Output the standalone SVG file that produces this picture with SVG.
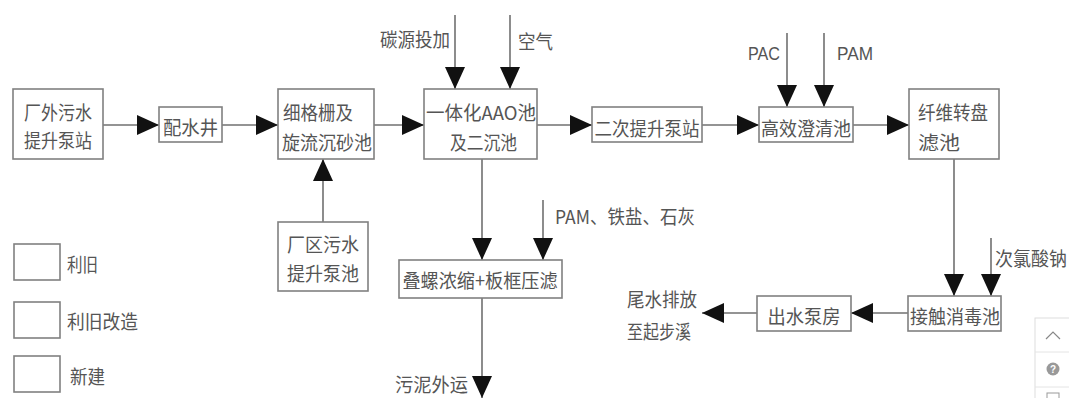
<svg xmlns="http://www.w3.org/2000/svg" width="1069" height="398" viewBox="0 0 1069 398">
<style>
.box{fill:#fff;stroke:#808080;stroke-width:1.6}
.t{font-family:"Noto Sans CJK SC","Liberation Sans",sans-serif;font-size:19px;fill:#555;dominant-baseline:central}
.c{text-anchor:middle}
.l{font-family:"Liberation Sans","Noto Sans CJK SC",sans-serif}
.ln{stroke:#707070;stroke-width:1.6;fill:none}
</style>
<defs>
<marker id="ah" markerUnits="userSpaceOnUse" markerWidth="22" markerHeight="20" refX="22" refY="10" orient="auto">
<path d="M0,0 L22,10 L0,20 z" fill="#111"/>
</marker>
</defs>
<rect width="1069" height="398" fill="#fff"/>

<g id="connectors">
<line class="ln" x1="103" y1="125" x2="159" y2="125" marker-end="url(#ah)"/>
<line class="ln" x1="222" y1="125" x2="278" y2="125" marker-end="url(#ah)"/>
<line class="ln" x1="374" y1="125" x2="424" y2="125" marker-end="url(#ah)"/>
<line class="ln" x1="537" y1="125" x2="592" y2="125" marker-end="url(#ah)"/>
<line class="ln" x1="702" y1="125" x2="759" y2="125" marker-end="url(#ah)"/>
<line class="ln" x1="853" y1="125" x2="909" y2="125" marker-end="url(#ah)"/>
<line class="ln" x1="323" y1="222" x2="323" y2="159" marker-end="url(#ah)"/>
<line class="ln" x1="455" y1="15" x2="455" y2="89" marker-end="url(#ah)"/>
<line class="ln" x1="510" y1="15" x2="510" y2="89" marker-end="url(#ah)"/>
<line class="ln" x1="787" y1="33" x2="787" y2="107" marker-end="url(#ah)"/>
<line class="ln" x1="824" y1="33" x2="824" y2="107" marker-end="url(#ah)"/>
<line class="ln" x1="954" y1="159" x2="954" y2="296" marker-end="url(#ah)"/>
<line class="ln" x1="991" y1="238" x2="991" y2="296" marker-end="url(#ah)"/>
<line class="ln" x1="908" y1="313" x2="851" y2="313" marker-end="url(#ah)"/>
<line class="ln" x1="757" y1="313" x2="702" y2="313" marker-end="url(#ah)"/>
<line class="ln" x1="482" y1="159" x2="482" y2="260" marker-end="url(#ah)"/>
<line class="ln" x1="543" y1="200" x2="543" y2="260" marker-end="url(#ah)"/>
<line class="ln" x1="482" y1="298" x2="482" y2="398" marker-end="url(#ah)"/>
</g>

<g id="n1"><rect class="box" x="13" y="89" width="90" height="70"/>
<text class="t c" x="58" y="111" textLength="68" lengthAdjust="spacingAndGlyphs">厂外污水</text>
<text class="t c" x="58" y="139" textLength="68" lengthAdjust="spacingAndGlyphs">提升泵站</text></g>

<g id="n2"><rect class="box" x="159" y="107" width="63" height="35"/>
<text class="t c" x="190.5" y="126" textLength="55" lengthAdjust="spacingAndGlyphs">配水井</text></g>

<g id="n3"><rect class="box" x="278" y="89" width="96" height="70"/>
<text class="t" x="283" y="111" textLength="70" lengthAdjust="spacingAndGlyphs">细格栅及</text>
<text class="t" x="282" y="141" textLength="90" lengthAdjust="spacingAndGlyphs">旋流沉砂池</text></g>

<g id="n4"><rect class="box" x="278" y="222" width="90" height="69"/>
<text class="t c" x="323" y="243" textLength="72" lengthAdjust="spacingAndGlyphs">厂区污水</text>
<text class="t c" x="323" y="272" textLength="72" lengthAdjust="spacingAndGlyphs">提升泵池</text></g>

<g id="n5"><rect class="box" x="424" y="89" width="113" height="70"/>
<text class="t" x="426" y="111" textLength="110" lengthAdjust="spacingAndGlyphs">一体化AAO池</text>
<text class="t" x="450" y="141" textLength="67" lengthAdjust="spacingAndGlyphs">及二沉池</text></g>

<g id="n6"><rect class="box" x="592" y="107" width="110" height="35"/>
<text class="t c" x="647" y="127" textLength="105" lengthAdjust="spacingAndGlyphs">二次提升泵站</text></g>

<g id="n7"><rect class="box" x="759" y="107" width="94" height="35"/>
<text class="t c" x="806" y="127" textLength="90" lengthAdjust="spacingAndGlyphs">高效澄清池</text></g>

<g id="n8"><rect class="box" x="909" y="89" width="90" height="70"/>
<text class="t" x="918" y="111" textLength="70" lengthAdjust="spacingAndGlyphs">纤维转盘</text>
<text class="t" x="918" y="141" textLength="42" lengthAdjust="spacingAndGlyphs">滤池</text></g>

<g id="n9"><rect class="box" x="908" y="296" width="93" height="35"/>
<text class="t c" x="955" y="315" textLength="90" lengthAdjust="spacingAndGlyphs">接触消毒池</text></g>

<g id="n10"><rect class="box" x="757" y="296" width="94" height="35"/>
<text class="t c" x="804" y="315" textLength="73" lengthAdjust="spacingAndGlyphs">出水泵房</text></g>

<g id="n11"><rect class="box" x="399" y="260" width="163" height="38"/>
<text class="t c" x="480" y="279" textLength="155" lengthAdjust="spacingAndGlyphs">叠螺浓缩+板框压滤</text></g>

<g id="labels">
<text class="t" x="380" y="38" textLength="70" lengthAdjust="spacingAndGlyphs">碳源投加</text>
<text class="t" x="518" y="40" textLength="35" lengthAdjust="spacingAndGlyphs">空气</text>
<text class="t l" x="748" y="53" textLength="32" lengthAdjust="spacingAndGlyphs">PAC</text>
<text class="t l" x="837" y="53" textLength="36" lengthAdjust="spacingAndGlyphs">PAM</text>
<text class="t" x="555" y="215" textLength="140" lengthAdjust="spacingAndGlyphs">PAM、铁盐、石灰</text>
<text class="t" x="995" y="257" textLength="72" lengthAdjust="spacingAndGlyphs">次氯酸钠</text>
<text class="t" x="627" y="298" textLength="70" lengthAdjust="spacingAndGlyphs">尾水排放</text>
<text class="t" x="627" y="330" textLength="64" lengthAdjust="spacingAndGlyphs">至起步溪</text>
<text class="t" x="395" y="383" textLength="73" lengthAdjust="spacingAndGlyphs">污泥外运</text>
</g>

<g id="legend">
<rect class="box" x="14" y="244" width="46" height="36"/>
<rect class="box" x="14" y="302" width="46" height="36"/>
<rect class="box" x="14" y="356" width="46" height="36"/>
<text class="t" x="67" y="263" textLength="31" lengthAdjust="spacingAndGlyphs">利旧</text>
<text class="t" x="67" y="320" textLength="71" lengthAdjust="spacingAndGlyphs">利旧改造</text>
<text class="t" x="70" y="375" textLength="35" lengthAdjust="spacingAndGlyphs">新建</text>
</g>

<g id="widget">
<rect x="1035" y="318" width="36" height="90" fill="#fff" stroke="#ddd" stroke-width="1"/>
<line x1="1035" y1="352" x2="1069" y2="352" stroke="#e4e4e4"/>
<line x1="1035" y1="387" x2="1069" y2="387" stroke="#e4e4e4"/>
<path d="M1046,339 L1053,332 L1060,339" fill="none" stroke="#888" stroke-width="1.2"/>
<circle cx="1053" cy="369" r="6.5" fill="#999"/>
<text x="1053" y="373" font-family="Liberation Sans,sans-serif" font-size="10" font-weight="bold" fill="#fff" text-anchor="middle">?</text>
<rect x="1047" y="393" width="12" height="6" fill="none" stroke="#999"/>
</g>
</svg>
